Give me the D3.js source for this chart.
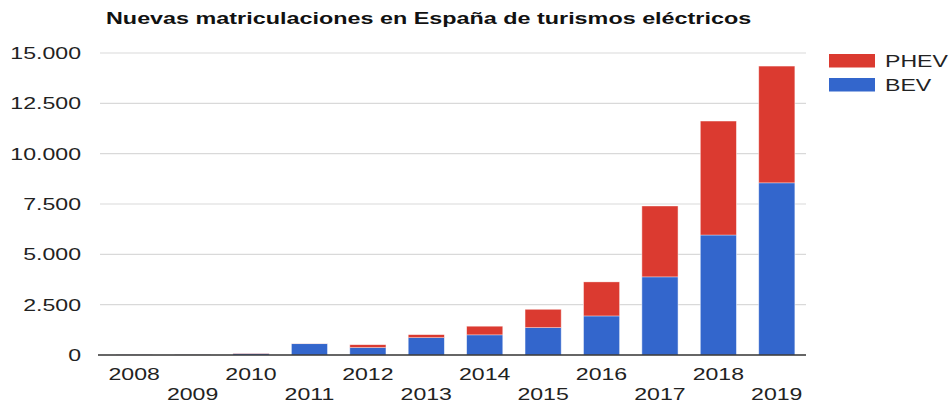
<!DOCTYPE html>
<html>
<head>
<meta charset="utf-8">
<script src="https://cdn.jsdelivr.net/npm/d3@7"></script>
<style>
  html, body { margin: 0; padding: 0; background: #fff; }
  svg { display: block; }
  text { font-family: "Liberation Sans", Arial, sans-serif; }
</style>
</head>
<body>
<svg id="chart"></svg>
<script>
// source picture is stretched sideways, so draw in a narrower box and stretch it
var W = 952, H = 405, sx = 1.4
var vw = W / sx

var years = ["2008","2009","2010","2011","2012","2013","2014","2015","2016","2017","2018","2019"]
var bev  = [15, 20, 70, 560, 370, 860, 1000, 1360, 1940, 3880, 5960, 8550]
var phev = [5, 5, 15, 10, 140, 150, 430, 910, 1690, 3520, 5660, 5800]
var seriesNames = ["PHEV", "BEV"]
var yTicks = [0, 2500, 5000, 7500, 10000, 12500, 15000]

var colors = {BEV: "#3366cc", PHEV: "#db3a30"}

var svg = d3.select("#chart")
    .attr("width", W)
    .attr("height", H)
    .attr("viewBox", "0 0 " + vw + " " + H)
    .attr("preserveAspectRatio", "none")

var x = d3.scaleBand()
    .domain(years)
    .range([105 / sx, 806 / sx])
    .paddingInner(0.38)
    .paddingOuter(0.19)

var y = d3.scaleLinear()
    .domain([0, 15000])
    .range([355, 53])

var fmt = function(v) { return d3.format(",")(v).replace(/,/g, ".") }

// gridlines
svg.append("g")
  .selectAll("line")
  .data(yTicks.slice(1))
  .enter().append("line")
  .attr("x1", 100 / sx)
  .attr("x2", 806 / sx)
  .attr("y1", function(d) { return y(d) })
  .attr("y2", function(d) { return y(d) })
  .attr("stroke", "#d9d9d9")
  .attr("stroke-width", 1.2)

// y labels
svg.append("g")
  .selectAll("text")
  .data(yTicks)
  .enter().append("text")
  .attr("x", 81 / sx)
  .attr("y", function(d) { return y(d) })
  .attr("dy", "0.36em")
  .attr("text-anchor", "end")
  .attr("font-size", "16.5px")
  .attr("fill", "#222")
  .text(fmt)

// stacked bars
var rows = years.map(function(yr, i) { return {year: yr, BEV: bev[i], PHEV: phev[i]} })
var stack = d3.stack().keys(["BEV", "PHEV"])(rows)

svg.append("g")
  .selectAll("g")
  .data(stack)
  .enter().append("g")
  .attr("fill", function(d) { return colors[d.key] })
  .selectAll("rect")
  .data(function(d) { return d })
  .enter().append("rect")
  .attr("x", function(d) { return x(d.data.year) })
  .attr("width", x.bandwidth())
  .attr("y", function(d) { return y(d[1]) })
  .attr("height", function(d) { return Math.max(0, y(d[0]) - y(d[1])) })
  .attr("stroke", "#fff")
  .attr("stroke-width", 0.6)
  .attr("stroke-opacity", 0.6)

// baseline
svg.append("line")
  .attr("x1", 98 / sx)
  .attr("x2", 806 / sx)
  .attr("y1", y(0))
  .attr("y2", y(0))
  .attr("stroke", "#333")
  .attr("stroke-width", 1.3)

// x labels, alternating rows
svg.append("g")
  .selectAll("text")
  .data(years)
  .enter().append("text")
  .attr("x", function(d) { return x(d) + x.bandwidth() / 2 })
  .attr("y", function(d, i) { return i % 2 === 0 ? 380 : 400 })
  .attr("text-anchor", "middle")
  .attr("font-size", "16.5px")
  .attr("fill", "#222")
  .text(function(d) { return d })

// title
svg.append("text")
  .attr("x", 106 / sx)
  .attr("y", 24)
  .attr("font-size", "16.7px")
  .attr("font-weight", "bold")
  .attr("fill", "#111")
  .text("Nuevas matriculaciones en España de turismos eléctricos")

// legend
var legend = svg.append("g")
  .selectAll("g")
  .data(seriesNames)
  .enter().append("g")
  .attr("transform", function(d, i) { return "translate(" + (829 / sx) + "," + (54 + i * 24) + ")" })

legend.append("rect")
  .attr("width", 46 / sx)
  .attr("height", 13.5)
  .attr("fill", function(d) { return colors[d] })

legend.append("text")
  .attr("x", 56 / sx)
  .attr("y", 6.8)
  .attr("dy", "0.36em")
  .attr("font-size", "16.5px")
  .attr("fill", "#222")
  .text(function(d) { return d })
</script>
</body>
</html>
